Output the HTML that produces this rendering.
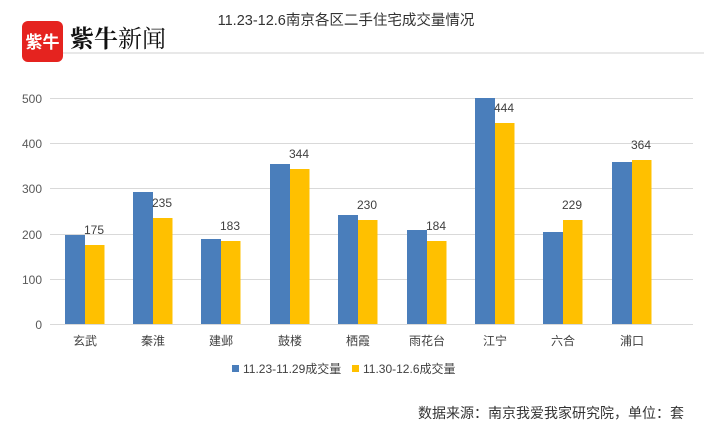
<!DOCTYPE html>
<html><head><meta charset="utf-8"><style>
body{margin:0;background:#fff;}
svg text{font-family:"Liberation Sans","Noto Sans CJK SC",sans-serif;}
</style></head><body>
<svg width="704" height="436" xmlns="http://www.w3.org/2000/svg">
<rect x="0" y="0" width="704" height="436" fill="#fff"/>
<line x1="62" y1="53" x2="704" y2="53" stroke="#d0d0d0" stroke-width="1"/>
<rect x="22" y="21" width="41" height="41" rx="6" fill="#e5231f"/>
<text x="42.5" y="48" font-size="17" fill="#fff" text-anchor="middle" font-weight="bold">紫牛</text>
<text x="70" y="47" font-size="24" fill="#111" font-weight="bold" style="font-family:'Noto Serif CJK SC',serif">紫牛<tspan font-weight="normal">新闻</tspan></text>
<text x="346" y="25" font-size="14.5" fill="#333" text-anchor="middle">11.23-12.6南京各区二手住宅成交量情况</text>
<g stroke="#d9d9d9" stroke-width="1">
<line x1="50" y1="98.5" x2="693" y2="98.5"/>
<line x1="50" y1="143.5" x2="693" y2="143.5"/>
<line x1="50" y1="188.5" x2="693" y2="188.5"/>
<line x1="50" y1="234.5" x2="693" y2="234.5"/>
<line x1="50" y1="279.5" x2="693" y2="279.5"/>
<line x1="50" y1="324.5" x2="693" y2="324.5"/>
</g>
<g font-size="12" fill="#595959" text-anchor="end">
<text x="42" y="103">500</text><text x="42" y="148">400</text><text x="42" y="193">300</text>
<text x="42" y="239">200</text><text x="42" y="284">100</text><text x="42" y="329">0</text>
</g>
<g font-size="12" fill="#404040" text-anchor="middle">
<rect x="65" y="235" width="20" height="89" fill="#4a7ebb"/><rect x="85" y="245" width="19.5" height="79" fill="#ffc000"/><text x="94" y="234">175</text><text x="85" y="345">玄武</text>
<rect x="133" y="192" width="20" height="132" fill="#4a7ebb"/><rect x="153" y="218" width="19.5" height="106" fill="#ffc000"/><text x="162" y="207">235</text><text x="153" y="345">秦淮</text>
<rect x="201" y="239" width="20" height="85" fill="#4a7ebb"/><rect x="221" y="241" width="19.5" height="83" fill="#ffc000"/><text x="230" y="230">183</text><text x="221" y="345">建邺</text>
<rect x="270" y="164" width="20" height="160" fill="#4a7ebb"/><rect x="290" y="169" width="19.5" height="155" fill="#ffc000"/><text x="299" y="158">344</text><text x="290" y="345">鼓楼</text>
<rect x="338" y="215" width="20" height="109" fill="#4a7ebb"/><rect x="358" y="220" width="19.5" height="104" fill="#ffc000"/><text x="367" y="209">230</text><text x="358" y="345">栖霞</text>
<rect x="407" y="230" width="20" height="94" fill="#4a7ebb"/><rect x="427" y="241" width="19.5" height="83" fill="#ffc000"/><text x="436" y="230">184</text><text x="427" y="345">雨花台</text>
<rect x="475" y="98" width="20" height="226" fill="#4a7ebb"/><rect x="495" y="123" width="19.5" height="201" fill="#ffc000"/><text x="504" y="112">444</text><text x="495" y="345">江宁</text>
<rect x="543" y="232" width="20" height="92" fill="#4a7ebb"/><rect x="563" y="220" width="19.5" height="104" fill="#ffc000"/><text x="572" y="209">229</text><text x="563" y="345">六合</text>
<rect x="612" y="162" width="20" height="162" fill="#4a7ebb"/><rect x="632" y="160" width="19.5" height="164" fill="#ffc000"/><text x="641" y="149">364</text><text x="632" y="345">浦口</text>
</g>
<rect x="232" y="365" width="7" height="7" fill="#4a7ebb"/>
<text x="243" y="373" font-size="12" fill="#404040">11.23-11.29成交量</text>
<rect x="352" y="365" width="7" height="7" fill="#ffc000"/>
<text x="363" y="373" font-size="12" fill="#404040">11.30-12.6成交量</text>
<text x="684" y="418" font-size="14" fill="#333" text-anchor="end">数据来源：南京我爱我家研究院，单位：套</text>
</svg>
</body></html>
